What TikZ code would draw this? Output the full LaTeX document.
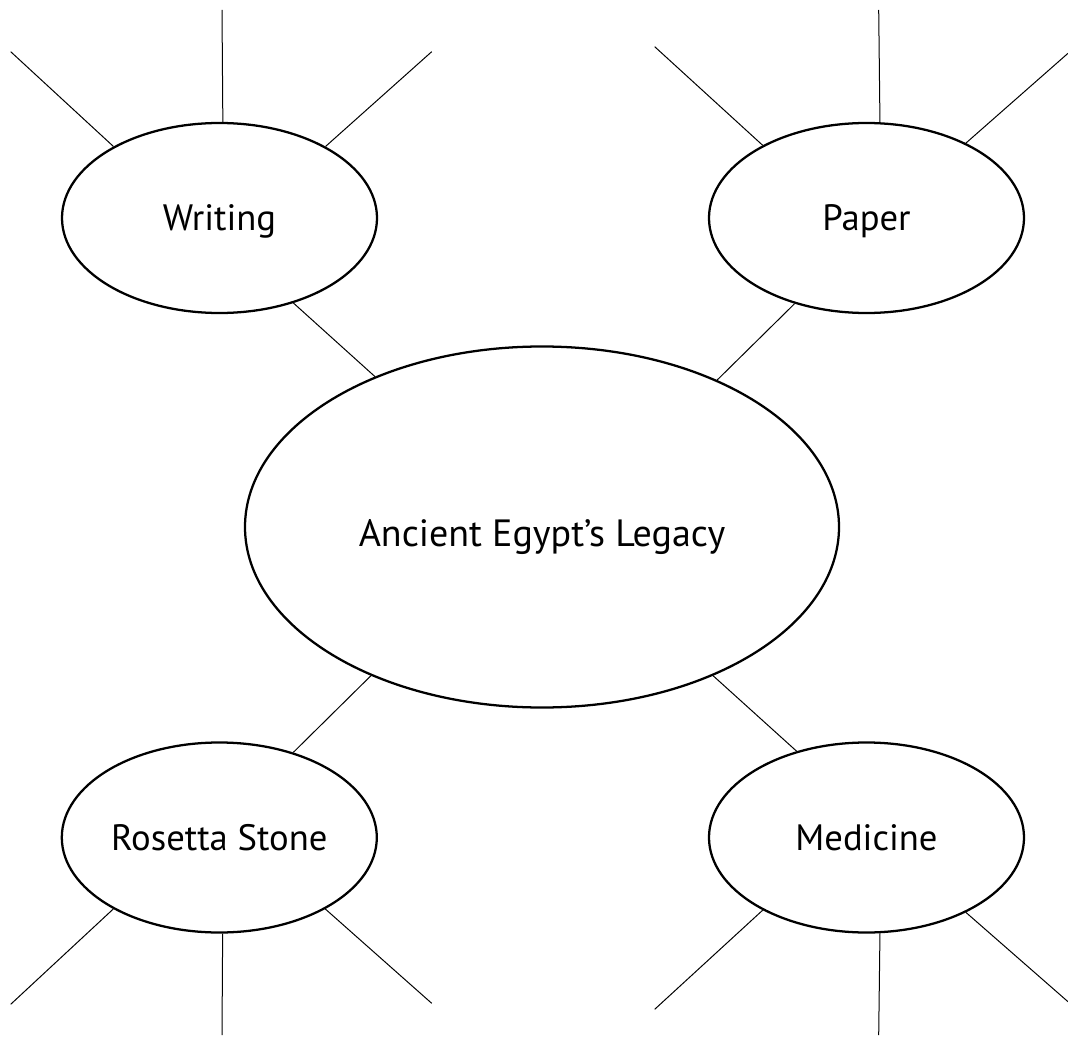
\documentclass[tikz,border=0pt]{standalone}
\usepackage{fontspec}
\setmainfont{PT Sans}
\usetikzlibrary{shapes.geometric}
\begin{document}
\begin{tikzpicture}[x=0.75pt,y=-0.75pt,
  topic/.style={ellipse,draw,line width=1.7pt,inner sep=0pt,
    minimum width=236.25pt,minimum height=142.5pt,
    text height=19.5pt,text depth=0pt,font=\fontsize{27.5}{32}\selectfont},
  hub/.style={ellipse,draw,line width=1.7pt,inner sep=0pt,
    minimum width=445.5pt,minimum height=270.75pt,
    text height=29pt,text depth=0pt,font=\fontsize{28.5}{33}\selectfont},
  spoke/.style={line width=0.75pt}]
\useasboundingbox (0,0) rectangle (1068,1045);

% central idea and the four branches
\node[hub]   (center)   at (542,527)     {Ancient Egypt’s Legacy};
\node[topic] (writing)  at (219.5,218)   {Writing};
\node[topic] (paper)    at (866.5,218)   {Paper};
\node[topic] (rosetta)  at (219.3,837.5) {Rosetta Stone};
\node[topic] (medicine) at (866.5,837.5) {Medicine};

% branch connectors
\draw[spoke] (writing.-49.8)  -- (center.138.4);
\draw[spoke] (paper.230.3)    -- (center.40.9);
\draw[spoke] (rosetta.49.5)   -- (center.221.8);
\draw[spoke] (medicine.129.3) -- (center.-41.2);

% free ends of the empty spokes
\coordinate (w1) at (10.7,51.7);
\coordinate (w2) at (222,10);
\coordinate (w3) at (431.7,51.7);
\coordinate (p1) at (654.7,46.7);
\coordinate (p2) at (878.7,10);
\coordinate (p3) at (1068,53.3);
\coordinate (r1) at (10.7,1004.3);
\coordinate (r2) at (222,1035);
\coordinate (r3) at (431.7,1003.3);
\coordinate (m1) at (654.7,1009.3);
\coordinate (m2) at (878.7,1035);
\coordinate (m3) at (1068,1001.7);

% empty spokes
\draw[spoke] (writing.146.3) -- (w1);
\draw[spoke] (writing.88.5)  -- (w2);
\draw[spoke] (writing.34.5)  -- (w3);
\draw[spoke] (paper.145.6)   -- (p1);
\draw[spoke] (paper.82.7)    -- (p2);
\draw[spoke] (paper.37)      -- (p3);
\draw[spoke] (rosetta.-146.5) -- (r1);
\draw[spoke] (rosetta.-88.4)  -- (r2);
\draw[spoke] (rosetta.-34.4)  -- (r3);
\draw[spoke] (medicine.-145.1) -- (m1);
\draw[spoke] (medicine.-82.7)  -- (m2);
\draw[spoke] (medicine.-37.1)  -- (m3);
\end{tikzpicture}
\end{document}
